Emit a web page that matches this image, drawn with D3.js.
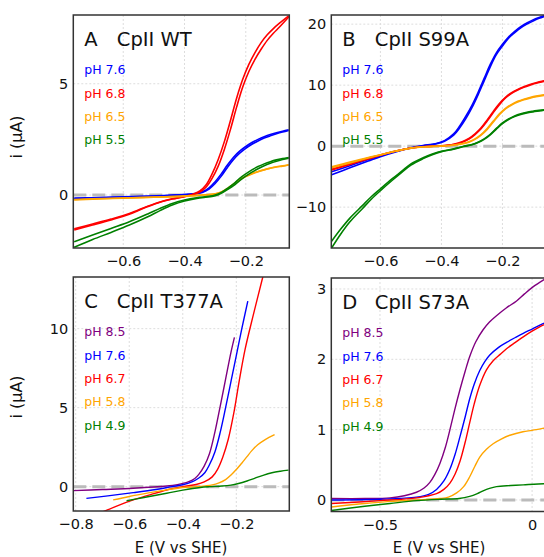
<!DOCTYPE html>
<html>
<head>
<meta charset="utf-8">
<script src="https://cdn.jsdelivr.net/npm/d3@7"></script>
<style>
  body { margin: 0; background: #fff; }
  text { font-family: "DejaVu Sans", Verdana, sans-serif; }
</style>
</head>
<body>
<svg id="chart"></svg>
<script>
// ---- data: rows are [E (V vs SHE), i branch 1, i branch 2] in µA ----
const wt76 = [[-0.76,-0.18,-0.14],[-0.70,-0.15,-0.12],[-0.60,-0.10,-0.08],[-0.50,-0.05,-0.04],[-0.40,0.02,0.02],[-0.36,0.08,0.07],[-0.34,0.16,0.13],[-0.32,0.32,0.27],[-0.30,0.60,0.52],[-0.28,0.95,0.85],[-0.26,1.35,1.24],[-0.24,1.70,1.60],[-0.22,1.97,1.88],[-0.20,2.18,2.10],[-0.18,2.36,2.28],[-0.16,2.50,2.43],[-0.14,2.62,2.56],[-0.12,2.72,2.66],[-0.10,2.80,2.75],[-0.08,2.87,2.83],[-0.06,2.93,2.90]];
const wt68 = [[-0.76,-1.57,-1.52],[-0.70,-1.35,-1.30],[-0.64,-1.12,-1.08],[-0.58,-0.86,-0.83],[-0.52,-0.52,-0.50],[-0.48,-0.32,-0.31],[-0.44,-0.18,-0.17],[-0.40,-0.07,-0.07],[-0.37,0.05,0.03],[-0.35,0.18,0.13],[-0.33,0.45,0.35],[-0.31,0.95,0.75],[-0.29,1.6,1.3],[-0.27,2.4,2.05],[-0.25,3.35,2.95],[-0.23,4.35,3.95],[-0.21,5.2,4.85],[-0.19,5.87,5.55],[-0.17,6.4,6.1],[-0.15,6.85,6.55],[-0.13,7.2,6.95],[-0.11,7.48,7.27],[-0.09,7.72,7.55],[-0.06,8.05,8.0]];
const wt65 = [[-0.76,-0.22,-0.20],[-0.70,-0.19,-0.17],[-0.60,-0.14,-0.13],[-0.50,-0.10,-0.09],[-0.40,-0.05,-0.05],[-0.34,0.00,0.00],[-0.30,0.06,0.05],[-0.28,0.14,0.12],[-0.26,0.30,0.27],[-0.24,0.50,0.47],[-0.22,0.70,0.67],[-0.20,0.85,0.83],[-0.18,0.97,0.95],[-0.16,1.06,1.05],[-0.14,1.14,1.13],[-0.12,1.21,1.20],[-0.10,1.27,1.26],[-0.08,1.31,1.30],[-0.06,1.36,1.35]];
const wt55 = [[-0.76,-2.1,-2.35],[-0.70,-1.8,-2.0],[-0.64,-1.5,-1.68],[-0.58,-1.2,-1.35],[-0.52,-0.85,-0.98],[-0.48,-0.6,-0.7],[-0.44,-0.38,-0.45],[-0.40,-0.22,-0.27],[-0.36,-0.12,-0.15],[-0.32,-0.06,-0.08],[-0.30,0.0,-0.03],[-0.28,0.12,0.08],[-0.26,0.3,0.25],[-0.24,0.5,0.42],[-0.22,0.75,0.65],[-0.20,0.95,0.85],[-0.18,1.13,1.03],[-0.16,1.28,1.18],[-0.14,1.4,1.32],[-0.12,1.5,1.43],[-0.10,1.58,1.52],[-0.08,1.64,1.6],[-0.06,1.69,1.66]];

const s99a76 = [[-0.76,-4.2,-4.7],[-0.70,-3.2,-3.55],[-0.64,-2.2,-2.45],[-0.60,-1.55,-1.72],[-0.55,-0.85,-0.95],[-0.50,-0.25,-0.32],[-0.46,0.1,0.06],[-0.42,0.4,0.35],[-0.39,0.9,0.8],[-0.36,2.0,1.8],[-0.34,3.3,3.0],[-0.32,4.9,4.5],[-0.30,6.7,6.3],[-0.28,8.8,8.4],[-0.26,11.1,10.7],[-0.24,13.4,13.0],[-0.22,15.3,15.0],[-0.20,16.7,16.4],[-0.18,17.9,17.7],[-0.16,18.8,18.6],[-0.14,19.6,19.4],[-0.12,20.2,20.0],[-0.10,20.7,20.5],[-0.08,21.1,20.95],[-0.06,21.45,21.3]];
const s99a68 = [[-0.76,-3.8,-3.9],[-0.70,-2.9,-3.0],[-0.64,-2.0,-2.1],[-0.60,-1.45,-1.5],[-0.55,-0.8,-0.85],[-0.50,-0.3,-0.32],[-0.45,-0.05,-0.06],[-0.40,0.05,0.04],[-0.36,0.3,0.26],[-0.33,0.75,0.68],[-0.31,1.25,1.15],[-0.29,2.0,1.9],[-0.27,3.0,2.85],[-0.25,4.3,4.1],[-0.23,5.7,5.5],[-0.21,7.0,6.8],[-0.19,8.0,7.9],[-0.17,8.75,8.65],[-0.15,9.3,9.2],[-0.13,9.75,9.65],[-0.11,10.1,10.0],[-0.09,10.4,10.3],[-0.06,10.75,10.65]];
const s99a65 = [[-0.76,-3.4,-3.55],[-0.70,-2.6,-2.75],[-0.64,-1.85,-1.95],[-0.60,-1.4,-1.45],[-0.55,-0.8,-0.85],[-0.50,-0.3,-0.33],[-0.45,-0.08,-0.09],[-0.40,0.02,0.01],[-0.36,0.18,0.15],[-0.33,0.42,0.38],[-0.31,0.72,0.65],[-0.29,1.2,1.1],[-0.27,1.9,1.8],[-0.25,2.9,2.75],[-0.23,4.1,3.95],[-0.21,5.3,5.15],[-0.19,6.2,6.1],[-0.17,6.85,6.75],[-0.15,7.35,7.25],[-0.13,7.7,7.6],[-0.11,7.97,7.87],[-0.09,8.2,8.1],[-0.06,8.45,8.35]];
const s99a55 = [[-0.76,-15.6,-16.7],[-0.73,-13.6,-14.4],[-0.70,-11.8,-12.4],[-0.66,-9.8,-10.3],[-0.63,-8.3,-8.7],[-0.60,-7.0,-7.3],[-0.56,-5.3,-5.55],[-0.53,-4.1,-4.3],[-0.50,-2.9,-3.1],[-0.46,-1.9,-2.05],[-0.43,-1.3,-1.4],[-0.40,-0.85,-0.9],[-0.36,-0.45,-0.5],[-0.33,-0.05,-0.1],[-0.30,0.28,0.22],[-0.28,0.65,0.58],[-0.26,1.2,1.1],[-0.24,1.95,1.85],[-0.22,2.9,2.8],[-0.20,3.8,3.7],[-0.18,4.45,4.35],[-0.16,4.95,4.85],[-0.14,5.3,5.2],[-0.12,5.55,5.45],[-0.10,5.72,5.62],[-0.08,5.86,5.76],[-0.06,6.0,5.9]];

// ---- data: rows are [E (V vs SHE), i] in µA ----
const t377a85 = [[-0.81,-0.25],[-0.70,-0.18],[-0.585,-0.1],[-0.46,0.04],[-0.42,0.13],[-0.38,0.3],[-0.355,0.52],[-0.34,0.78],[-0.32,1.3],[-0.30,2.1],[-0.28,3.45],[-0.26,5.1],[-0.24,6.8],[-0.22,8.5],[-0.207,9.45]];
const t377a76 = [[-0.76,-0.74],[-0.68,-0.58],[-0.585,-0.38],[-0.50,-0.18],[-0.44,0.0],[-0.40,0.12],[-0.366,0.3],[-0.34,0.55],[-0.317,0.9],[-0.30,1.4],[-0.28,2.2],[-0.26,3.45],[-0.24,5.0],[-0.22,6.65],[-0.20,8.3],[-0.18,9.95],[-0.157,11.74]];
const t377a67 = [[-0.70,-1.6],[-0.64,-1.18],[-0.585,-0.84],[-0.52,-0.5],[-0.46,-0.21],[-0.40,0.0],[-0.35,0.14],[-0.32,0.3],[-0.29,0.62],[-0.27,1.1],[-0.25,1.9],[-0.23,3.0],[-0.21,4.6],[-0.19,6.6],[-0.167,8.7],[-0.136,10.9],[-0.105,13.0],[-0.09,14.0]];
const t377a58 = [[-0.66,-0.84],[-0.60,-0.62],[-0.523,-0.38],[-0.46,-0.2],[-0.40,-0.05],[-0.35,0.0],[-0.317,0.05],[-0.29,0.11],[-0.267,0.22],[-0.24,0.45],[-0.217,0.78],[-0.198,1.12],[-0.179,1.5],[-0.16,1.9],[-0.142,2.28],[-0.12,2.65],[-0.092,2.98],[-0.057,3.29]];
const t377a49 = [[-0.61,-0.89],[-0.55,-0.7],[-0.46,-0.42],[-0.40,-0.22],[-0.335,-0.05],[-0.30,0.0],[-0.254,0.04],[-0.22,0.1],[-0.192,0.2],[-0.16,0.36],[-0.13,0.54],[-0.10,0.72],[-0.067,0.88],[-0.035,0.98],[-0.005,1.05]];

const s73a85 = [[-0.66,0.02],[-0.55,0.02],[-0.467,0.03],[-0.42,0.06],[-0.38,0.11],[-0.355,0.17],[-0.336,0.25],[-0.32,0.36],[-0.303,0.52],[-0.285,0.75],[-0.27,1.0],[-0.255,1.27],[-0.237,1.57],[-0.22,1.83],[-0.205,2.04],[-0.185,2.25],[-0.161,2.42],[-0.14,2.53],[-0.117,2.62],[-0.085,2.73],[-0.051,2.83],[-0.025,2.93],[0.003,3.03],[0.038,3.13],[0.05,3.16]];
const s73a76 = [[-0.66,0.0],[-0.50,0.01],[-0.38,0.04],[-0.34,0.08],[-0.314,0.15],[-0.29,0.27],[-0.27,0.44],[-0.253,0.65],[-0.237,0.9],[-0.22,1.18],[-0.205,1.44],[-0.19,1.65],[-0.172,1.84],[-0.155,1.97],[-0.139,2.06],[-0.11,2.17],[-0.084,2.24],[-0.055,2.31],[-0.029,2.37],[0.0,2.43],[0.038,2.51],[0.05,2.53]];
const s73a67 = [[-0.66,-0.05],[-0.50,-0.01],[-0.38,0.03],[-0.314,0.09],[-0.29,0.15],[-0.27,0.24],[-0.253,0.37],[-0.237,0.55],[-0.22,0.82],[-0.205,1.1],[-0.19,1.37],[-0.172,1.63],[-0.15,1.85],[-0.128,1.98],[-0.105,2.07],[-0.084,2.15],[-0.055,2.24],[-0.029,2.32],[0.0,2.4],[0.038,2.49],[0.05,2.51]];
const s73a58 = [[-0.66,-0.1],[-0.55,-0.05],[-0.467,-0.02],[-0.38,0.0],[-0.303,0.02],[-0.275,0.04],[-0.248,0.1],[-0.225,0.19],[-0.205,0.33],[-0.188,0.48],[-0.172,0.61],[-0.15,0.72],[-0.128,0.8],[-0.10,0.87],[-0.073,0.92],[-0.03,0.97],[0.0,0.99],[0.038,1.02],[0.05,1.03]];
const s73a49 = [[-0.66,-0.15],[-0.55,-0.09],[-0.467,-0.05],[-0.38,-0.01],[-0.30,0.01],[-0.24,0.02],[-0.205,0.05],[-0.18,0.09],[-0.161,0.13],[-0.14,0.165],[-0.117,0.19],[-0.07,0.205],[-0.029,0.215],[0.038,0.23],[0.05,0.23]];

const panelLetters = ["A", "B", "C", "D"];
const panelNames = ["CpII WT", "CpII S99A", "CpII T377A", "CpII S73A"];
const phAB = ["7.6", "6.8", "6.5", "5.5"];
const phCD = ["8.5", "7.6", "6.7", "5.8", "4.9"];
const xTicksA = [-0.6, -0.4, -0.2], yTicksA = [0, 5];
const xTicksB = [-0.6, -0.4, -0.2], yTicksB = [-10, 0, 10, 20];
const xTicksC = [-0.8, -0.6, -0.4, -0.2], yTicksC = [0, 5, 10];
const xTicksD = [-0.5, 0], yTicksD = [0, 1, 2, 3];

// ---- drawing ----
const W = 544, H = 557;
const colorOf = { "8.5": "#800080", "7.6": "#0000ff", "6.8": "#ff0000", "6.7": "#ff0000",
                  "6.5": "#ffa500", "5.8": "#ffa500", "5.5": "#008000", "4.9": "#008000" };

const svg = d3.select("#chart").attr("width", W).attr("height", H);
const fmt = d => (d < 0 ? "\u2212" : "") + Math.abs(d);

const panels = [
  { left: 73.3, top: 15, w: 216, h: 233, xd: [-0.763, -0.058], yd: [-2.38, 8.09],
    xt: xTicksA, yt: yTicksA, ph: phAB, series: [wt76, wt68, wt65, wt55], loop: true, lw: 1.6 },
  { left: 331.3, top: 15, w: 216, h: 233, xd: [-0.761, -0.053], yd: [-16.7, 21.5],
    xt: xTicksB, yt: yTicksB, ph: phAB, series: [s99a76, s99a68, s99a65, s99a55], loop: true, lw: 1.6 },
  { left: 73.3, top: 277, w: 216, h: 234, xd: [-0.809, -0.002], yd: [-1.54, 13.27],
    xt: xTicksC, yt: yTicksC, ph: phCD, series: [t377a85, t377a76, t377a67, t377a58, t377a49], loop: false, lw: 1.4 },
  { left: 331.3, top: 278, w: 216, h: 233.5, xd: [-0.66, 0.05], yd: [-0.164, 3.156],
    xt: xTicksD, yt: yTicksD, ph: phCD, series: [s73a85, s73a76, s73a67, s73a58, s73a49], loop: false, lw: 1.4 }
];

panels.forEach((p, k) => {
  const g = svg.append("g").attr("transform", `translate(${p.left},${p.top})`);
  const x = d3.scaleLinear().domain(p.xd).range([0, p.w]);
  const y = d3.scaleLinear().domain(p.yd).range([p.h, 0]);

  // grid
  g.append("g").selectAll("line").data(p.xt).join("line")
    .attr("x1", d => x(d)).attr("x2", d => x(d)).attr("y1", 0).attr("y2", p.h)
    .attr("stroke", "#ddd").attr("stroke-dasharray", "2,2");
  g.append("g").selectAll("line").data(p.yt).join("line")
    .attr("x1", 0).attr("x2", p.w).attr("y1", d => y(d)).attr("y2", d => y(d))
    .attr("stroke", "#ddd").attr("stroke-dasharray", "2,2");

  // axes (labels only)
  const xa = g.append("g").attr("transform", `translate(0,${p.h})`)
    .call(d3.axisBottom(x).tickValues(p.xt).tickFormat(fmt).tickSize(0).tickPadding(8));
  const ya = g.append("g")
    .call(d3.axisLeft(y).tickValues(p.yt).tickFormat(fmt).tickSize(0).tickPadding(5));
  [xa, ya].forEach(a => {
    a.select(".domain").remove();
    a.selectAll("text").attr("font-size", 14.5).attr("fill", "#111")
      .attr("font-family", '"DejaVu Sans", Verdana, sans-serif');
  });

  // zero line
  g.append("line").attr("x1", 0).attr("x2", p.w).attr("y1", y(0)).attr("y2", y(0))
    .attr("stroke", "#bbb").attr("stroke-width", 3).attr("stroke-dasharray", "13,6");

  // curves
  const clipId = "clip" + k;
  g.append("clipPath").attr("id", clipId).append("rect").attr("width", p.w).attr("height", p.h);
  const curves = g.append("g").attr("clip-path", `url(#${clipId})`);
  p.series.forEach((rows, j) => {
    const col = colorOf[p.ph[j]];
    const cols = p.loop ? [1, 2] : [1];
    cols.forEach(c => {
      const line = d3.line().x(d => x(d[0])).y(d => y(d[c])).curve(d3.curveCatmullRom.alpha(0.5));
      curves.append("path").datum(rows).attr("d", line)
        .attr("fill", "none").attr("stroke", col).attr("stroke-width", p.lw);
    });
  });

  // frame
  g.append("rect").attr("width", p.w).attr("height", p.h)
    .attr("fill", "none").attr("stroke", "#333").attr("stroke-width", 1.5);

  // title
  g.append("text").attr("x", 11).attr("y", 31).attr("font-size", 19.5).attr("fill", "#111").text(panelLetters[k]);
  g.append("text").attr("x", 43.5).attr("y", 31).attr("font-size", 19.5).attr("fill", "#111").text(panelNames[k]);

  // legend
  g.append("g").selectAll("text").data(p.ph).join("text")
    .attr("x", 11).attr("y", (d, i) => 55 + 23.3 * i).attr("dy", "0.35em")
    .attr("font-size", 12.5).attr("fill", d => colorOf[d]).text(d => "pH " + d);
});

// axis titles
[137, 397].forEach(cy => {
  svg.append("text").attr("transform", `translate(16,${cy}) rotate(-90)`)
    .attr("text-anchor", "middle").attr("dy", "0.35em").attr("font-size", 16).attr("fill", "#111")
    .text("i (\u03bcA)");
});
[181, 439].forEach(cx => {
  svg.append("text").attr("x", cx).attr("y", 548).attr("dy", "0.35em")
    .attr("text-anchor", "middle").attr("font-size", 15).attr("fill", "#111")
    .text("E (V vs SHE)");
});
</script>
</body>
</html>
